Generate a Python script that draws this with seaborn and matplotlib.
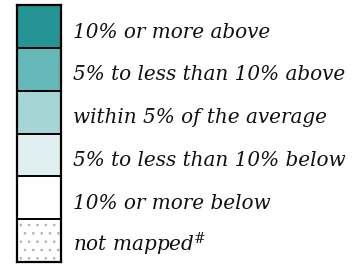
import numpy as np
import pandas as pd
import matplotlib
matplotlib.use("Agg")
import matplotlib.pyplot as plt
from matplotlib.colors import ListedColormap
import seaborn as sns

categories = ["10% or more above", "5% to less than 10% above", "within 5% of the average",
              "5% to less than 10% below", "10% or more below", "not mapped$^{\\#}$"]
class_codes = [0, 1, 2, 3, 4, 5]
colors = ["#259494", "#66b8b8", "#a6d5d5", "#e0f0f0", "#ffffff", "#ffffff"]

sns.set_style("white")
plt.rcParams["font.family"] = ["DejaVu Serif"]
plt.rcParams["mathtext.fontset"] = "dejavuserif"
plt.rcParams["hatch.linewidth"] = 0.7

fig = plt.figure(figsize=(3.64, 2.64), dpi=100)
W, H = 364, 264
x0, x1 = 17, 61
y0, y1 = 5, 262
ax = fig.add_axes([x0 / W, 1 - y1 / H, (x1 - x0) / W, (y1 - y0) / H])

df = pd.DataFrame({"v": class_codes}, index=categories)
sns.heatmap(df, ax=ax, cmap=ListedColormap(colors), vmin=-0.5, vmax=5.5, cbar=False,
            linewidths=0, xticklabels=False, yticklabels=False)
# hatch on the last (not mapped) cell
ax.barh([5.5], [1], height=1, left=0, color="white", hatch="..", edgecolor="#b4b4b4",
        linewidth=0)
for yb in range(1, len(categories)):
    ax.axhline(yb, color="black", lw=1.4)
for s in ax.spines.values():
    s.set_visible(True)
    s.set_color("black")
    s.set_linewidth(1.6)
ax.set_xlim(0, 1)
ax.set_ylim(6, 0)

for i, lab in enumerate(categories):
    ax.text(1.27, i + 0.76, lab, fontsize=14.4, fontstyle="italic", va="baseline",
            ha="left", color="#111111", clip_on=False)

fig.savefig("out.png", dpi=100)
